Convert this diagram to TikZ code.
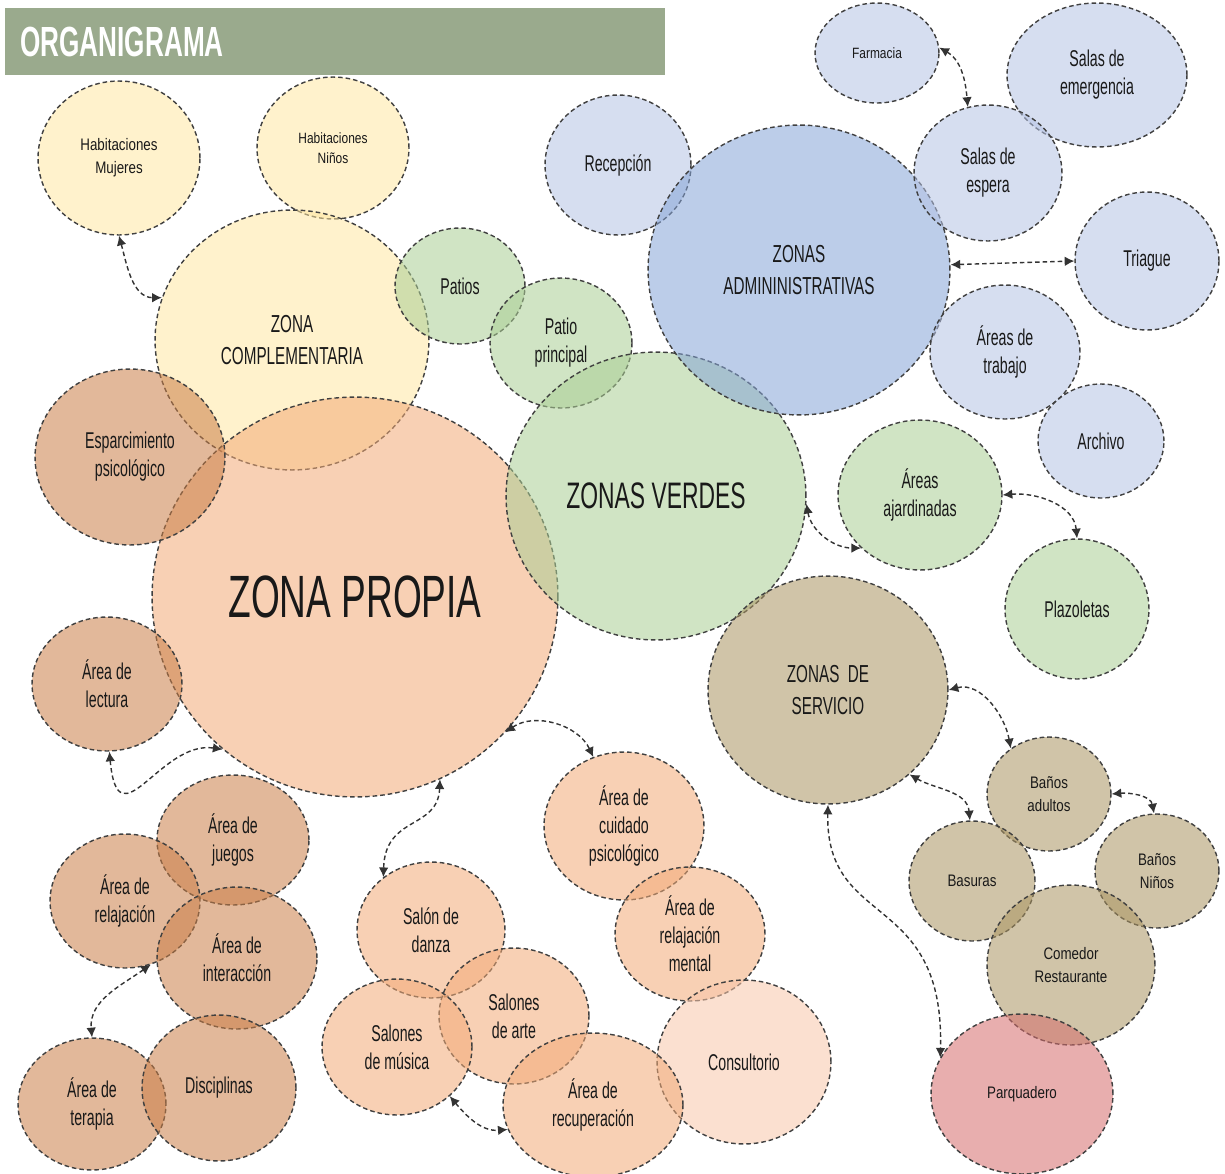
\documentclass[tikz,border=0pt]{standalone}
\usepackage{fontspec}
\setmainfont{Liberation Sans}[FakeStretch=0.62]
\newfontfamily\ancha{Liberation Sans}[FakeStretch=0.8]
\usepackage{xcolor}
\usetikzlibrary{shapes.geometric, arrows.meta}

\definecolor{tituloC}{RGB}{154,170,141}
\definecolor{amarilloC}{RGB}{255,231,162}
\definecolor{verdeC}{RGB}{170,206,148}
\definecolor{azulC}{RGB}{181,195,228}
\definecolor{azulosC}{RGB}{133,164,215}
\definecolor{duraznoC}{RGB}{242,170,119}
\definecolor{claroC}{RGB}{248,198,169}
\definecolor{cafeC}{RGB}{202,126,71}
\definecolor{caquiC}{RGB}{170,148,97}
\definecolor{rosaC}{RGB}{213,108,108}

\begin{document}
\begin{tikzpicture}[x=0.02cm, y=0.02cm,
    burbuja/.style={ellipse, draw=black!75, line width=0.8pt, dash pattern=on 2.6pt off 1.7pt,
      fill opacity=0.55, text opacity=1, inner sep=0pt, align=center, text=black!90},
    tam/.style 2 args={minimum width=#1*0.04cm, minimum height=#2*0.04cm},
    flecha/.style={{Latex[length=5.5pt,width=5.5pt]}-{Latex[length=5.5pt,width=5.5pt]},
      draw=black!80, line width=0.8pt, dash pattern=on 2.6pt off 1.7pt}
  ]
  \tikzset{
    amarillo/.style={burbuja, fill=amarilloC},
    verde/.style={burbuja, fill=verdeC},
    azul/.style={burbuja, fill=azulC},
    azulos/.style={burbuja, fill=azulosC},
    durazno/.style={burbuja, fill=duraznoC},
    claro/.style={burbuja, fill=claroC},
    cafe/.style={burbuja, fill=cafeC},
    caqui/.style={burbuja, fill=caquiC},
    rosa/.style={burbuja, fill=rosaC},
    enorme/.style={font=\fontsize{34}{40}\selectfont},
    grande/.style={font=\fontsize{21}{26}\selectfont},
    medio/.style={font=\fontsize{14}{18}\selectfont},
    normal/.style={font=\fontsize{13}{16}\selectfont},
    chico/.style={font=\ancha\fontsize{9.5}{13}\selectfont},
    mini/.style={font=\ancha\fontsize{8.5}{11}\selectfont}
  }
  \useasboundingbox (0,0) rectangle (1225,-1174);

  \node[anchor=north west, fill=tituloC, minimum width=13.2cm, minimum height=1.34cm,
    inner xsep=0.3cm, text width=12.6cm, align=left, text=white,
    font=\fontsize{24}{26}\selectfont\bfseries] (titulo) at (5,-8) {ORGANIGRAMA};

  % zona complementaria
  \node[amarillo, tam={81}{77}, chico] (hm) at (119,-158) {Habitaciones\\Mujeres};
  \node[amarillo, tam={76}{71}, mini] (hn) at (333,-148) {Habitaciones\\Niños};
  \node[amarillo, tam={137}{130}, medio] (zc) at (292,-340) {ZONA\\COMPLEMENTARIA};

  % zona propia
  \node[durazno, tam={203}{200}, enorme] (prop) at (355,-597) {ZONA PROPIA};
  \node[cafe, tam={95}{88}, normal] (es) at (130,-457) {Esparcimiento\\psicológico};
  \node[cafe, tam={75}{67}, normal] (lec) at (107,-684) {Área de\\lectura};
  \node[cafe, tam={76}{65}, normal] (ju) at (233,-840) {Área de\\juegos};
  \node[cafe, tam={75}{67}, normal] (rel) at (125,-901) {Área de\\relajación};
  \node[cafe, tam={80}{71}, normal] (inter) at (237,-958) {Área de\\interacción};
  \node[cafe, tam={74}{66}, normal] (ter) at (92,-1104) {Área de\\terapia};
  \node[cafe, tam={77}{73}, normal] (di) at (219,-1088) {Disciplinas};
  \node[durazno, tam={74}{68}, normal] (da) at (431,-930) {Salón de\\danza};
  \node[durazno, tam={75}{68}, normal] (sa) at (514,-1016) {Salones\\de arte};
  \node[durazno, tam={75}{68}, normal] (mu) at (397,-1047) {Salones\\de música};
  \node[durazno, tam={80}{74}, normal] (cu) at (624,-826) {Área de\\cuidado\\psicológico};
  \node[durazno, tam={75}{67}, normal] (rm) at (690,-934) {Área de\\relajación\\mental};
  \node[claro, tam={87}{82}, normal] (co) at (744,-1062) {Consultorio};
  \node[durazno, tam={90}{72}, normal] (rc) at (593,-1105) {Área de\\recuperación};

  % zonas verdes
  \node[verde, tam={65}{58}, normal] (pa) at (460,-286) {Patios};
  \node[verde, tam={71}{65}, normal] (pp) at (561,-343) {Patio\\principal};
  \node[verde, tam={150}{144}, grande] (zv) at (656,-496) {ZONAS VERDES};
  \node[verde, tam={82}{75}, normal] (aj) at (920,-495) {Áreas\\ajardinadas};
  \node[verde, tam={72}{70}, normal] (pl) at (1077,-609) {Plazoletas};

  % zonas administrativas
  \node[azul, tam={73}{70}, normal] (re) at (618,-165) {Recepción};
  \node[azulos, tam={151}{145}, medio] (za) at (799,-270) {ZONAS\\ADMININISTRATIVAS};
  \node[azul, tam={62}{50}, mini] (fa) at (877,-53) {Farmacia};
  \node[azul, tam={90}{72}, normal] (em) at (1097,-75) {Salas de\\emergencia};
  \node[azul, tam={74}{68}, normal] (se) at (988,-173) {Salas de\\espera};
  \node[azul, tam={72}{69}, normal] (tr) at (1147,-261) {Triague};
  \node[azul, tam={75}{67}, normal] (at) at (1005,-352) {Áreas de\\trabajo};
  \node[azul, tam={63}{57}, normal] (ar) at (1101,-441) {Archivo};

  % zonas de servicio
  \node[caqui, tam={120}{114}, medio] (zs) at (828,-690) {ZONAS\ \ DE\\SERVICIO};
  \node[caqui, tam={62}{57}, chico] (ba) at (1049,-794) {Baños\\adultos};
  \node[caqui, tam={62}{57}, chico] (bn) at (1157,-871) {Baños\\Niños};
  \node[caqui, tam={63}{60}, chico] (bs) at (972,-881) {Basuras};
  \node[caqui, tam={84}{80}, chico] (cr) at (1071,-965) {Comedor\\Restaurante};
  \node[rosa, tam={91}{80}, chico] (pq) at (1022,-1094) {Parquadero};

  % conexiones
  \draw[flecha] (hm.-90) to[out=-75, in=180] (zc.162);
  \draw[flecha] (fa.5) to[out=-30, in=95] (se.107);
  \draw[flecha] (za.2) -- (tr.180);
  \draw[flecha] (zv.-3) to[out=-80, in=180] (aj.222);
  \draw[flecha] (aj.0) to[out=5, in=95] (pl.90);
  \draw[flecha] (lec.-88) .. controls (118,-845) and (160,-740) .. (prop.229);
  \draw[flecha] (prop.-42) to[out=35, in=115] (cu.114);
  \draw[flecha] (prop.-65) .. controls (438,-830) and (385,-815) .. (da.132);
  \draw[flecha] (rel.-68) to[out=215, in=95] (ter.90);
  \draw[flecha] (mu.-43) to[out=-50, in=185] (rc.196);
  \draw[flecha] (zs.-90) .. controls (825,-930) and (945,-890) .. (pq.156);
  \draw[flecha] (zs.0) to[out=15, in=100] (ba.130);
  \draw[flecha] (zs.-46) to[out=-30, in=95] (bs.92);
  \draw[flecha] (ba.0) to[out=5, in=100] (bn.93);
\end{tikzpicture}
\end{document}
